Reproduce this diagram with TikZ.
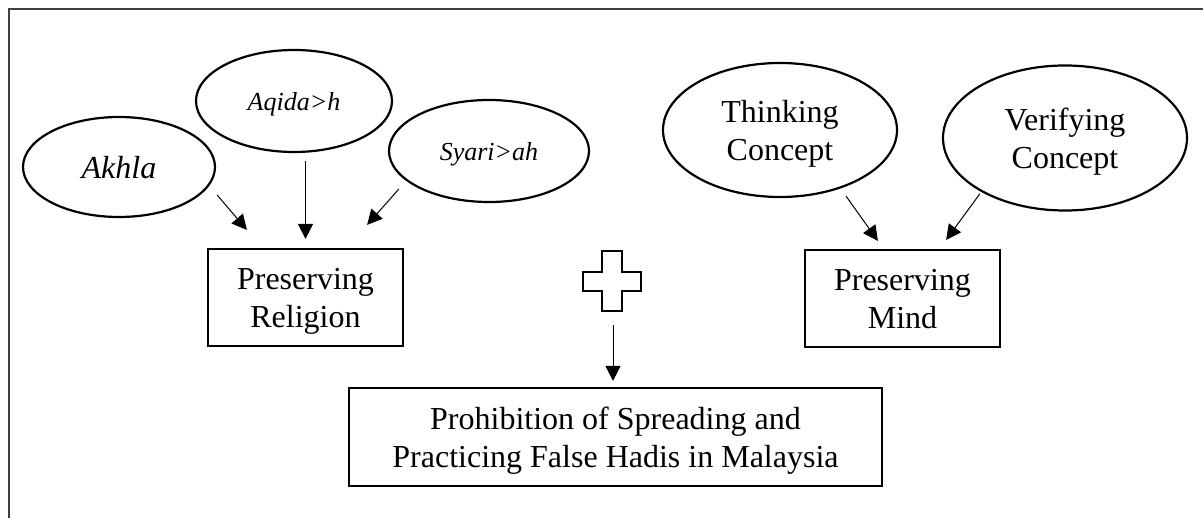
\documentclass[tikz,border=0pt]{standalone}
\usepackage{fontspec}
\setmainfont{Liberation Serif}
\usetikzlibrary{arrows.meta,shapes.geometric,calc}
\tikzset{
  oval/.style={ellipse, draw=black, line width=1.1pt, inner sep=0pt, align=center, text depth=0pt},
  boxnode/.style={rectangle, draw=black, line width=1.1pt, inner sep=0pt, align=center, text depth=0pt},
  arr/.style={draw=black, line width=0.5pt, -{Triangle[length=7.5pt,width=7.5pt]}},
  bigtext/.style={font=\fontsize{16}{19}\selectfont},
  smalltext/.style={font=\fontsize{13}{15}\selectfont\itshape},
}
\begin{document}
\begin{tikzpicture}[x=0.5pt,y=-0.5pt]
\useasboundingbox (0,0) rectangle (1203,518);
% frame
\draw[black!75, line width=0.7pt] (9,518) -- (9,9) -- (1203,9);
% ellipses
\node[oval, font=\fontsize{16}{19}\selectfont\itshape, minimum width=96pt, minimum height=50pt] (akhla) at (119,167) {Akhla};
\node[oval, smalltext, minimum width=98pt, minimum height=51pt] (aqida) at (294,101) {Aqida>h};
\node[oval, smalltext, minimum width=100pt, minimum height=51pt] (syari) at (489,151) {Syari>ah};
\node[oval, bigtext, minimum width=117pt, minimum height=67pt] (think) at (780,130) {Thinking\\Concept};
\node[oval, bigtext, minimum width=122pt, minimum height=72.5pt] (verify) at (1065,138) {Verifying\\Concept};
% boxes
\node[boxnode, bigtext, minimum width=97.5pt, minimum height=48.5pt] (relbox) at (305.5,297.5) {Preserving\\Religion};
\node[boxnode, bigtext, minimum width=97.5pt, minimum height=48.5pt] (mindbox) at (902.5,298.5) {Preserving\\Mind};
\node[boxnode, bigtext, minimum width=266.5pt, minimum height=49pt] (probox) at (615.5,437) {Prohibition of Spreading and\\Practicing False Hadis in Malaysia};
% cross
\draw[black, line width=1.1pt] (602,251) -- (622,251) -- (622,272) -- (641,272) -- (641,291) -- (622,291) -- (622,311) -- (602,311) -- (602,291) -- (583,291) -- (583,272) -- (602,272) -- cycle;
\coordinate (crossbot) at (613,311);
% arrows
\draw[arr] ([shift={(1,28)}]akhla.east) -- ([shift={(40,-18)}]relbox.north west);
\draw[arr, shorten <=4pt, shorten >=4.5pt] (aqida.south -| relbox.north) -- (relbox.north);
\draw[arr] ([shift={(11,38)}]syari.west) -- ([shift={(-37,-23)}]relbox.north east);
\draw[arr] ([shift={(66,-2)}]think.south) -- ([shift={(74,-8)}]mindbox.north west);
\draw[arr] ([shift={(-85,-18)}]verify.south) -- ([shift={(-55,-9)}]mindbox.north east);
\draw[arr, shorten <=7pt, shorten >=3pt] (crossbot) -- (probox.north -| crossbot);
\end{tikzpicture}
\end{document}
